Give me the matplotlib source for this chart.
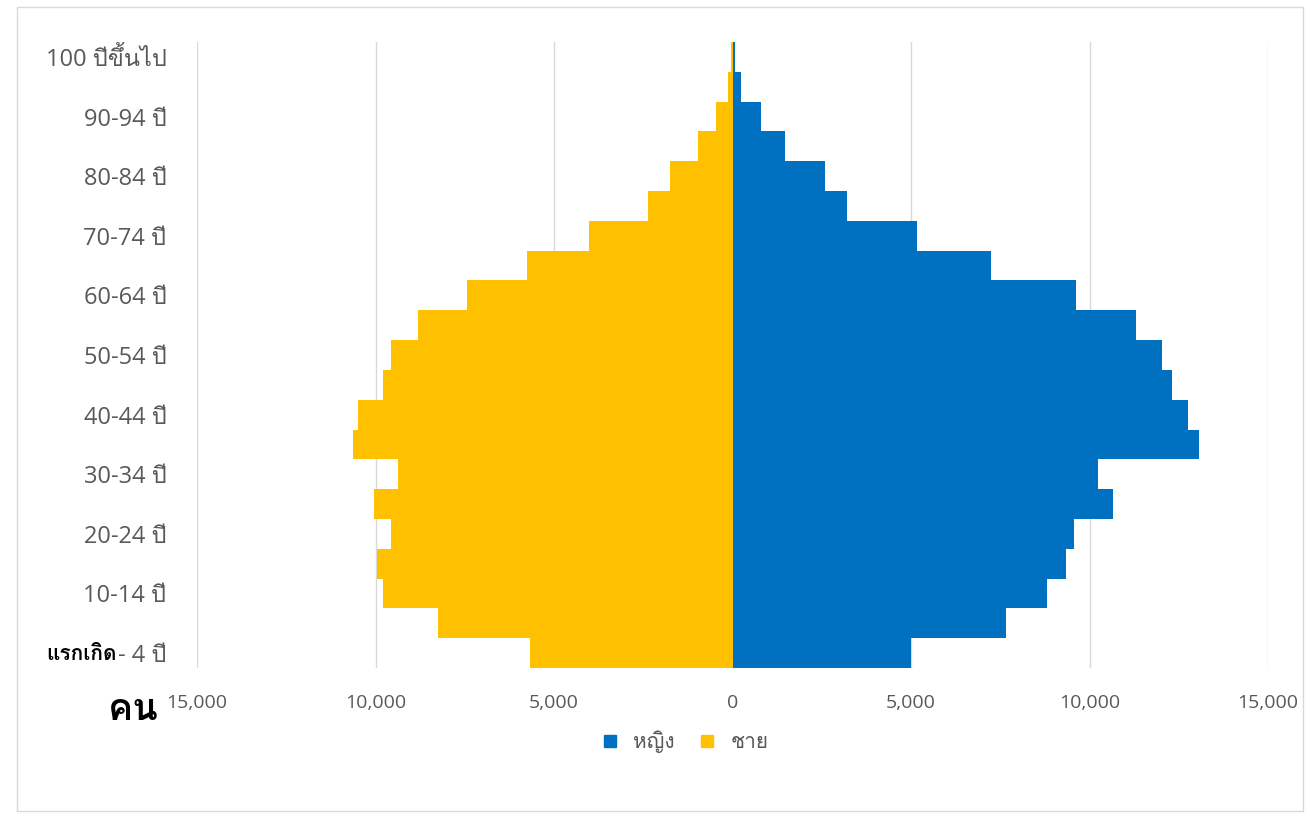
import matplotlib
matplotlib.use('Agg')
import matplotlib.pyplot as plt
from matplotlib import font_manager
from matplotlib.lines import Line2D
from matplotlib.patches import Rectangle
from fontTools.ttLib import TTFont

# age groups, bottom (youngest) to top (oldest)
age_labels = ['แรกเกิด- 4 ปี', '5-9 ปี', '10-14 ปี', '15-19 ปี', '20-24 ปี',
              '25-29 ปี', '30-34 ปี', '35-39 ปี', '40-44 ปี', '45-49 ปี',
              '50-54 ปี', '55-59 ปี', '60-64 ปี', '65-69 ปี', '70-74 ปี',
              '75-79 ปี', '80-84 ปี', '85-89 ปี', '90-94 ปี', '95-99 ปี',
              '100 ปีขึ้นไป']
female = [5010, 7650, 8800, 9330, 9550, 10670, 10230, 13060, 12750, 12300,
          12020, 11290, 9610, 7250, 5170, 3210, 2600, 1480, 810, 230, 60]
male = [5660, 8260, 9800, 9950, 9580, 10050, 9380, 10620, 10480, 9800,
        9580, 8800, 7450, 5770, 4030, 2380, 1760, 980, 450, 140, 40]
x_ticks = [-15000, -10000, -5000, 0, 5000, 10000, 15000]


# look for an installed font that has Thai glyphs
def thai_font():
    for f in font_manager.fontManager.ttflist:
        try:
            tt = TTFont(f.fname, fontNumber=0, lazy=True)
            cmap = tt.getBestCmap()
            if cmap and 0x0E1B in cmap and 0x0E0D in cmap and 0x0E35 in cmap:
                return f.name
        except Exception:
            pass
    return None


th = thai_font()
fams = ['Open Sans'] + ([th] if th else []) + ['DejaVu Sans']
plt.rcParams['font.family'] = fams

blue = '#0070C0'
yellow = '#FFC000'
grey = '#595959'

fig = plt.figure(figsize=(13.1, 8.16), dpi=100)
ax = fig.add_axes([0.1504, 0.1814, 0.8176, 0.7671])

y = list(range(len(age_labels)))
ax.barh(y, female, height=1.0, color=blue, label='หญิง', zorder=2)
ax.barh(y, [-v for v in male], height=1.0, color=yellow, label='ชาย', zorder=2)
ax.axvline(0, color='#8c8c8c', lw=0.8, zorder=1)

ax.set_xlim(-15000, 15000)
ax.set_ylim(-0.5, len(age_labels) - 0.5)
ax.set_xticks(x_ticks)
ax.set_xticklabels(['{:,}'.format(abs(v)) for v in x_ticks])
ax.tick_params(axis='x', length=0, pad=19, labelsize=14, labelcolor=grey)

shown = y[::2]
labels = [age_labels[i] for i in shown]
labels[0] = '- 4 ปี'
ax.set_yticks(shown)
ax.set_yticklabels(labels)
ax.tick_params(axis='y', length=0, pad=22, labelsize=17, labelcolor=grey)

ax.grid(axis='x', color='#d9d9d9', lw=1, zorder=0)
ax.set_axisbelow(True)
for s in ax.spines.values():
    s.set_visible(False)

# bold overlay word for the youngest group and the unit label
fig.text(0.0895, 1 - 655 / 816, 'แรกเกิด', ha='right', va='center',
         fontsize=15, fontweight='bold', color='black')
fig.text(0.082, 1 - 710 / 816, 'คน', ha='left', va='center',
         fontsize=27, fontweight='bold', color='black')

handles = [Line2D([], [], marker='s', ls='none', color=blue, markersize=9),
           Line2D([], [], marker='s', ls='none', color=yellow, markersize=9)]
fig.legend(handles, ['หญิง', 'ชาย'], loc='center', bbox_to_anchor=(0.518, 0.091),
           ncol=2, frameon=False, fontsize=15, handletextpad=0.1,
           columnspacing=0.6, labelcolor=grey)

fig.patches.append(Rectangle((0.013, 0.006), 0.982, 0.985, transform=fig.transFigure,
                             fill=False, edgecolor='#d9d9d9', lw=1))

fig.savefig('out.png', dpi=100)
